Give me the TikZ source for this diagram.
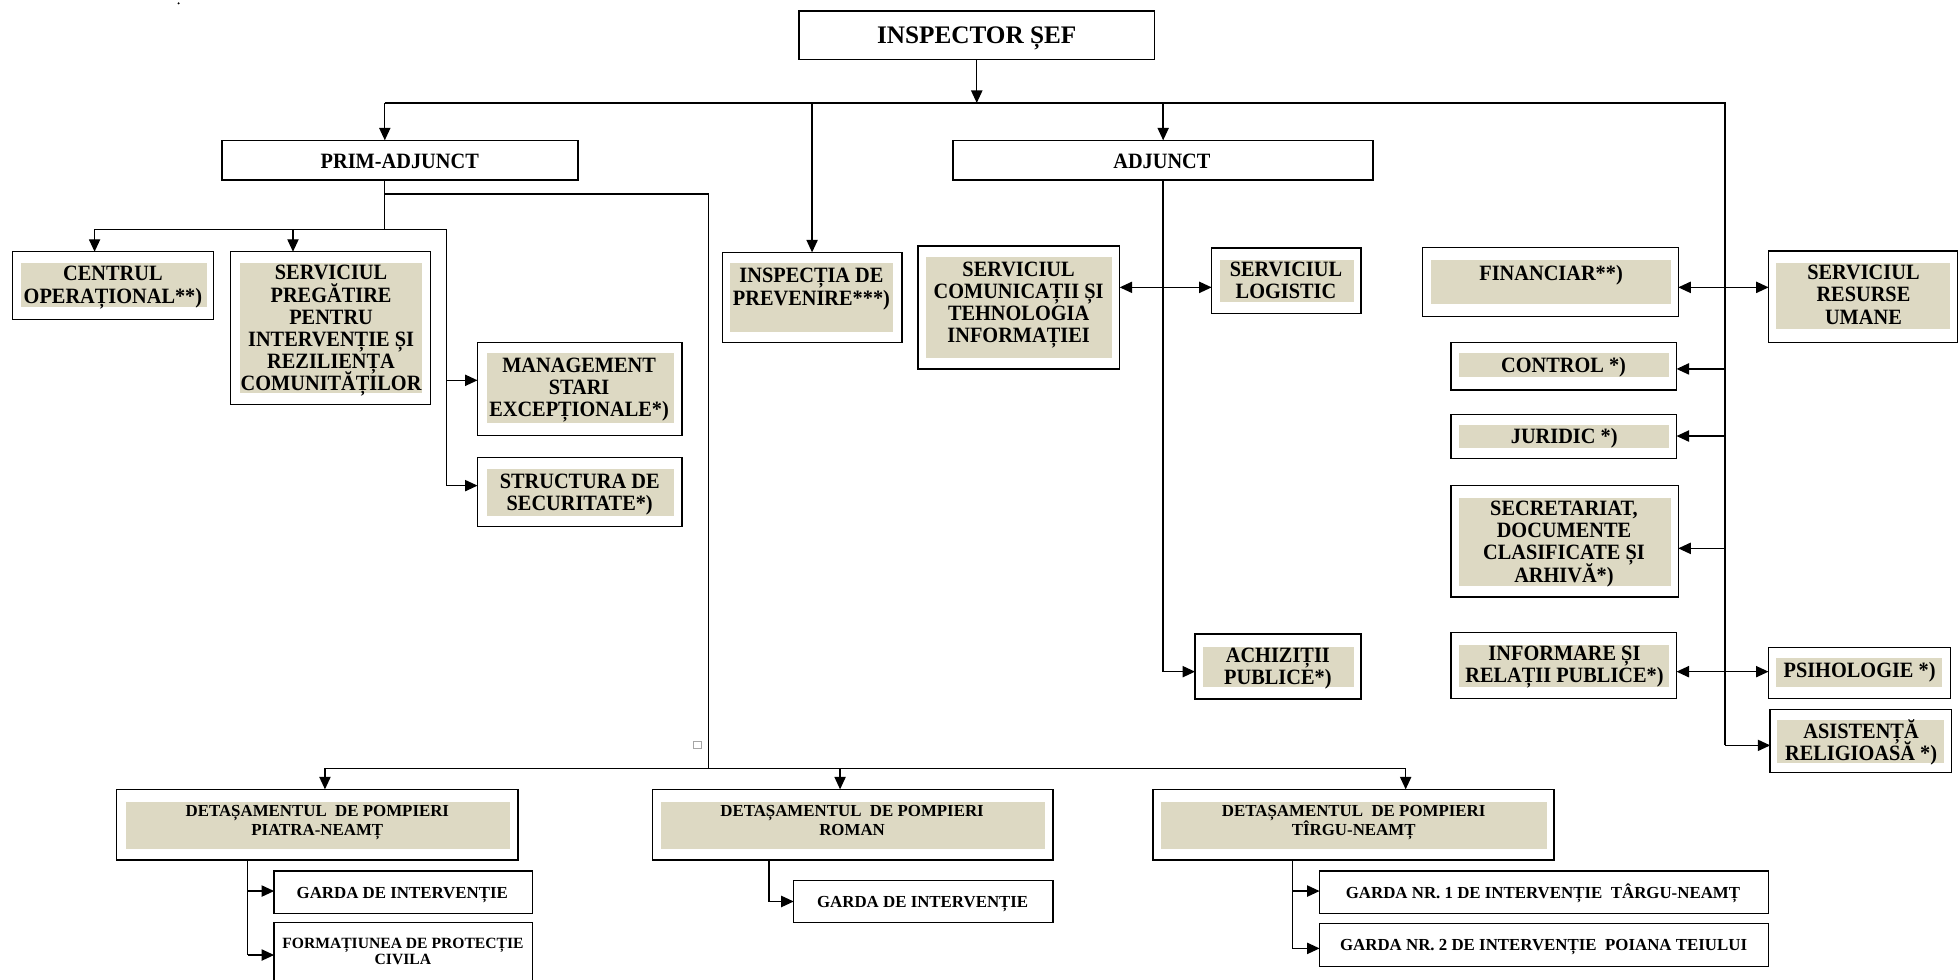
\documentclass[tikz,border=0pt]{standalone}
\usepackage{fontspec}
\setmainfont{Liberation Serif}
\newfontfamily\condfont{Liberation Serif}[FakeStretch=0.93]
\usetikzlibrary{arrows.meta}
\definecolor{beige}{HTML}{DDD9C3}
\newcommand\sL{\rule[-0.3\baselineskip]{0pt}{\baselineskip}}
\newcommand\Ln[1]{\sL\smash{#1}}
\newcommand\orgbox[5]{\node[obox, minimum width={(#4)-(#2)}, minimum height={(#5)-(#3)}] (#1) at ({((#2)+(#4))/2},{((#3)+(#5))/2}) {};}
\newcommand\infill[4]{\fill[beige] (#1,#2) rectangle (#3,#4);}
\tikzset{
  obox/.style={draw, line width=1.2pt, rectangle, inner sep=0pt, outer sep=0pt, fill=white},
  lblm/.style={font=\condfont\bfseries\fontsize{17.5}{17.7}\selectfont, align=center, inner sep=0pt, yshift=-2.26pt},
  lbls/.style={font=\bfseries\fontsize{13.5}{15.3}\selectfont, align=center, inner sep=0pt, yshift=-1.41pt},
  lblt/.style={font=\bfseries\fontsize{12.5}{13}\selectfont, align=center, inner sep=0pt, yshift=-1.54pt},
  lblb/.style={font=\bfseries\fontsize{20.2}{22}\selectfont, align=center, inner sep=0pt, yshift=-2.29pt},
  conn/.style={line width=1.1pt},
  arr/.style={conn, -{Triangle[length=10pt,width=9pt]}},
  darr/.style={conn, {Triangle[length=10pt,width=9pt]}-{Triangle[length=10pt,width=9pt]}}
}
\begin{document}
\begin{tikzpicture}[x=1pt,y=-1pt]
\useasboundingbox (0,0) rectangle (1568,784);
\clip (0,0) rectangle (1568,784);
\fill[white] (0,0) rectangle (1568,784);

% ---------- boxes ----------
\orgbox{insp}{639.6}{8.8}{924}{47.5}
\orgbox{prim}{177.6}{112.3}{462.7}{144.1}
\orgbox{adj}{762.9}{112.3}{1099.1}{144.1}

\orgbox{co}{9.9}{201.5}{170.9}{255.6}      \infill{16.5}{210.8}{165.4}{246}
\orgbox{sp}{184.5}{201.5}{344.7}{323.6}    \infill{191.8}{210.8}{338.1}{314.8}
\orgbox{mg}{382.2}{274.3}{545.7}{348.7}    \infill{389.6}{282.8}{539.5}{338.3}
\orgbox{st}{382.2}{366.3}{545.7}{421.6}    \infill{389.6}{375.7}{539.5}{413}
\orgbox{ip}{578.2}{202}{721.8}{274.3}      \infill{583.9}{210.8}{714.7}{265.8}
\orgbox{com}{734.7}{196.9}{896.2}{295.4}   \infill{741.1}{206}{889.7}{286.3}
\orgbox{log}{969.8}{198.3}{1089.5}{250.8}  \infill{976.2}{208.1}{1083.4}{242}
\orgbox{ach}{956.5}{507.5}{1089.5}{559.5}  \infill{962.6}{517.6}{1083.4}{550.2}
\orgbox{fin}{1138.7}{198.2}{1343.3}{253.5} \infill{1145.5}{208.1}{1337.2}{243.6}
\orgbox{res}{1415.6}{200.9}{1566.8}{274}   \infill{1421.6}{210.8}{1561}{263.3}
\orgbox{ctl}{1161.5}{274.2}{1341.9}{312.1} \infill{1168.1}{282.8}{1335.7}{302}
\orgbox{jur}{1161.5}{331.6}{1341.9}{366.8} \infill{1168.1}{340.4}{1335.7}{358.3}
\orgbox{sec}{1161.5}{388.7}{1343.3}{477.8} \infill{1168.1}{398.8}{1337.1}{469}
\orgbox{inf}{1161.5}{506.4}{1341.9}{559}   \infill{1168.1}{516.2}{1335.7}{550.1}
\orgbox{psi}{1415.5}{518.4}{1561.2}{559}   \infill{1421.7}{527}{1554.4}{550.1}
\orgbox{asi}{1416.9}{567.8}{1562.1}{618.5} \infill{1422.7}{576.3}{1555.9}{610.5}

\orgbox{dpn}{93.3}{631.8}{414.5}{688.4}    \infill{100.8}{641.7}{408}{679.3}
\orgbox{drm}{522.4}{631.8}{842.9}{688.4}   \infill{529.2}{641.7}{836.4}{679.3}
\orgbox{dtn}{922.7}{631.8}{1243.7}{688.4}  \infill{929.5}{641.7}{1237.9}{679.3}
\orgbox{g1}{219.4}{697.2}{426.3}{731.1}
\orgbox{fpc}{219.4}{738.5}{426.3}{795}
\orgbox{g2}{635.3}{704.6}{842.9}{738.5}
\orgbox{g3}{1056.2}{697.2}{1415.7}{731.1}
\orgbox{g4}{1056.2}{739.1}{1415.7}{773.7}

% ---------- labels ----------
\node[lblb] (insp-t) at (781.8,28.5) {\Ln{INSPECTOR ȘEF}};
\node[lblm] (prim-t) at (320,128.7) {\Ln{PRIM-ADJUNCT}};
\node[lblm] (adj-t) at (930,128.7) {\Ln{ADJUNCT}};
\node[lblm] (co-t) at (90.4,227.9) {\Ln{CENTRUL}\\\Ln{OPERAȚIONAL**)}};
\node[lblm] (sp-t) at (265,262.5) {\Ln{SERVICIUL}\\\Ln{PREGĂTIRE}\\\Ln{PENTRU}\\\Ln{INTERVENȚIE ȘI}\\\Ln{REZILIENȚA}\\\Ln{COMUNITĂȚILOR}};
\node[lblm] (mg-t) at (463.5,309.9) {\Ln{MANAGEMENT}\\\Ln{STARI}\\\Ln{EXCEPȚIONALE*)}};
\node[lblm] (st-t) at (464,393.8) {\Ln{STRUCTURA DE}\\\Ln{SECURITATE*)}};
\node[lblm] (ip-t) at (649.5,229.5) {\Ln{INSPECȚIA DE}\\\Ln{PREVENIRE***)}};
\node[lblm] (com-t) at (815.3,242) {\Ln{SERVICIUL}\\\Ln{COMUNICAȚII ȘI}\\\Ln{TEHNOLOGIA}\\\Ln{INFORMAȚIEI}};
\node[lblm] (log-t) at (1029.3,224.1) {\Ln{SERVICIUL}\\\Ln{LOGISTIC}};
\node[lblm] (ach-t) at (1022.8,533.6) {\Ln{ACHIZIȚII}\\\Ln{PUBLICE*)}};
\node[lblm] (fin-t) at (1241.5,218.8) {\Ln{FINANCIAR**)}};
\node[lblm] (res-t) at (1491.5,235.9) {\Ln{SERVICIUL}\\\Ln{RESURSE}\\\Ln{UMANE}};
\node[lblm] (ctl-t) at (1251.5,292.7) {\Ln{CONTROL *)}};
\node[lblm] (jur-t) at (1252,349) {\Ln{JURIDIC *)}};
\node[lblm] (sec-t) at (1251.8,433.5) {\Ln{SECRETARIAT,}\\\Ln{DOCUMENTE}\\\Ln{CLASIFICATE ȘI}\\\Ln{ARHIVĂ*)}};
\node[lblm] (inf-t) at (1252.2,532) {\Ln{INFORMARE ȘI}\\\Ln{RELAȚII PUBLICE*)}};
\node[lblm] (psi-t) at (1488.4,536.2) {\Ln{PSIHOLOGIE *)}};
\node[lblm] (asi-t) at (1489.6,594) {\Ln{ASISTENȚĂ}\\\Ln{RELIGIOASĂ *)}};
\node[lbls] (dpn-t) at (254,656.8) {\Ln{DETAȘAMENTUL~ DE POMPIERI}\\\Ln{PIATRA-NEAMȚ}};
\node[lbls] (drm-t) at (682,656.8) {\Ln{DETAȘAMENTUL~ DE POMPIERI}\\\Ln{ROMAN}};
\node[lbls] (dtn-t) at (1083.5,656.8) {\Ln{DETAȘAMENTUL~ DE POMPIERI}\\\Ln{TÎRGU-NEAMȚ}};
\node[lbls] (g1-t) at (322,714.5) {\Ln{GARDA DE INTERVENȚIE}};
\node[lblt] (fpc-t) at (322.5,761.5) {\Ln{FORMAȚIUNEA DE PROTECȚIE}\\\Ln{CIVILA}};
\node[lbls] (g2-t) at (738.5,721.7) {\Ln{GARDA DE INTERVENȚIE}};
\node[lbls] (g3-t) at (1235,714.5) {\Ln{GARDA NR. 1 DE INTERVENȚIE~ TÂRGU-NEAMȚ}};
\node[lbls] (g4-t) at (1235.5,756.4) {\Ln{GARDA NR. 2 DE INTERVENȚIE~ POIANA TEIULUI}};

% ---------- coordinates ----------
\coordinate (topL) at (308,82.4);
\coordinate (topR) at (1380.8,82.4);
\coordinate (rvE) at (1380.8,596.6);
\coordinate (yF) at (0,230);
\coordinate (yC) at (0,295.3);
\coordinate (yJ) at (0,349);
\coordinate (yS) at (0,438.9);
\coordinate (yI) at (0,537.6);
\coordinate (yA) at (0,537.6);
\coordinate (pA) at (308,155.3);
\coordinate (pB) at (308,183.5);
\coordinate (pC) at (567,155.3);
\coordinate (pD) at (567,615);
\coordinate (bL) at (75.7,183.5);
\coordinate (bM) at (234.5,183.5);
\coordinate (bR) at (357.6,183.5);
\coordinate (yMG) at (0,304.4);
\coordinate (yST) at (0,388.7);
\coordinate (bus1) at (260.1,615);
\coordinate (bus2) at (672.4,615);
\coordinate (bus3) at (1125.1,615);
\coordinate (px) at (198.3,0);
\coordinate (rx) at (615.6,0);
\coordinate (tx) at (1034.5,0);
\coordinate (yP1) at (0,713.2);
\coordinate (yP2) at (0,764.4);
\coordinate (yT2) at (0,759.1);

% ---------- connectors ----------
\draw[arr] (insp.south) -- (insp.south |- topL);
\draw[conn] (topL) -- (topR) -- (rvE);
\draw[arr] (topL) -- (topL |- prim.north);
\draw[arr] (ip.north |- topL) -- (ip.north);
\draw[arr] (adj.north |- topL) -- (adj.north);

\draw[arr] (topR |- yC) -- (ctl.east |- yC);
\draw[arr] (topR |- yJ) -- (jur.east |- yJ);
\draw[arr] (topR |- yS) -- (sec.east |- yS);
\draw[darr] (fin.east |- yF) -- (res.west |- yF);
\draw[darr] (inf.east |- yI) -- (psi.west |- yI);
\draw[arr] (rvE) -- (asi.west |- rvE);

\draw[conn] (topL |- prim.south) -- (pB);
\draw[conn] (pA) -- (pC) -- (pD);
\draw[conn] (bL) -- (bR) -- (bR |- yST);
\draw[arr] (bL) -- (bL |- co.north);
\draw[arr] (bM) -- (bM |- sp.north);
\draw[arr] (bR |- yMG) -- (mg.west |- yMG);
\draw[arr] (bR |- yST) -- (st.west |- yST);

\draw[conn] (bus1) -- (bus3);
\draw[arr] (bus1) -- (bus1 |- dpn.north);
\draw[arr] (bus2) -- (bus2 |- drm.north);
\draw[arr] (bus3) -- (bus3 |- dtn.north);

\draw[arr] (adj.south) |- (ach.west |- yA);
\draw[darr] (com.east |- yF) -- (log.west |- yF);

\draw[conn] (px |- dpn.south) -- (px |- yP2);
\draw[arr] (px |- yP1) -- (g1.west |- yP1);
\draw[arr] (px |- yP2) -- (fpc.west |- yP2);
\draw[arr] (rx |- drm.south) |- (g2.west);
\draw[conn] (tx |- dtn.south) -- (tx |- yT2);
\draw[arr] (tx |- yP1) -- (g3.west |- yP1);
\draw[arr] (tx |- yT2) -- (g4.west |- yT2);

% small marks
\draw[gray!70, line width=0.6pt] (555,593) rectangle (561,599);
\fill (142.9,2.7) circle (0.9);
\end{tikzpicture}
\end{document}
